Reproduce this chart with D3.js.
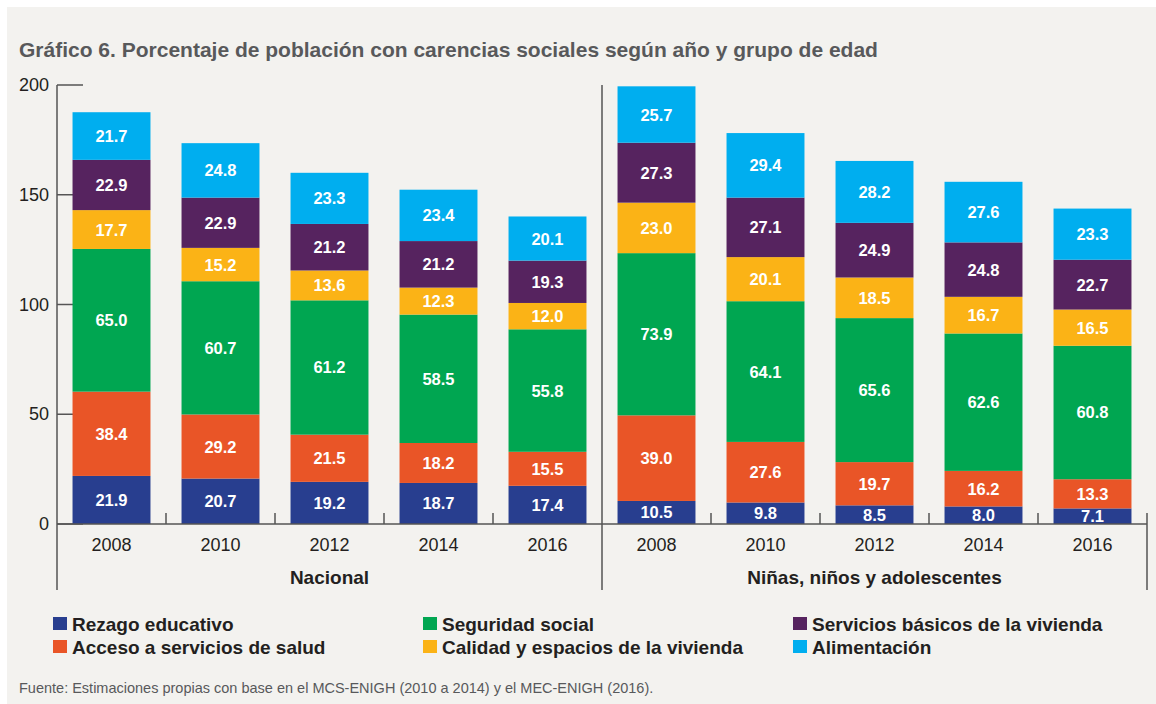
<!DOCTYPE html>
<html>
<head>
<meta charset="utf-8">
<script src="https://cdn.jsdelivr.net/npm/d3@7"></script>
<style>
  body { margin: 0; background: #fff; }
  svg text { font-family: "Liberation Sans", Arial, sans-serif; }
</style>
</head>
<body>
<div id="chart"></div>
<script>
// categories
const years = ["2008", "2010", "2012", "2014", "2016"];
const groups = ["Nacional", "Niñas, niños y adolescentes"];
const series = ["Rezago educativo", "Acceso a servicios de salud", "Seguridad social",
                "Calidad y espacios de la vivienda", "Servicios básicos de la vivienda", "Alimentación"];
const colors = ["#283e8f", "#e95527", "#00a651", "#fbb316", "#56235f", "#00aeef"];
const yTicks = [0, 50, 100, 150, 200];

// values per series, years in order, Nacional then NNA
const rezago        = [21.9, 20.7, 19.2, 18.7, 17.4,  10.5, 9.8, 8.5, 8.0, 7.1];
const saludAcceso   = [38.4, 29.2, 21.5, 18.2, 15.5,  39.0, 27.6, 19.7, 16.2, 13.3];
const seguridad     = [65.0, 60.7, 61.2, 58.5, 55.8,  73.9, 64.1, 65.6, 62.6, 60.8];
const calidad       = [17.7, 15.2, 13.6, 12.3, 12.0,  23.0, 20.1, 18.5, 16.7, 16.5];
const servicios     = [22.9, 22.9, 21.2, 21.2, 19.3,  27.3, 27.1, 24.9, 24.8, 22.7];
const alimentacion  = [21.7, 24.8, 23.3, 23.4, 20.1,  25.7, 29.4, 28.2, 27.6, 23.3];
const values = [rezago, saludAcceso, seguridad, calidad, servicios, alimentacion];

const width = 1156, height = 704;

let svg = d3.select("#chart").append("svg")
  .attr("width", width).attr("height", height);

// panel background
svg.append("rect").attr("x", 7).attr("y", 7)
  .attr("width", width - 7).attr("height", height - 7)
  .attr("fill", "#f3f2ef");

svg.append("text")
  .attr("x", 19).attr("y", 57)
  .attr("font-size", 21).attr("font-weight", "bold").attr("fill", "#58595b")
  .text("Gráfico 6. Porcentaje de población con carencias sociales según año y grupo de edad");

// one row per bar
let rows = [];
groups.forEach(function(g, gi){
  years.forEach(function(yr, yi){
    let row = { key: g + "-" + yr, year: yr, group: g };
    series.forEach(function(s, si){ row[s] = values[si][gi * years.length + yi]; });
    rows.push(row);
  });
});

let x = d3.scaleBand()
  .domain(rows.map(d => d.key))
  .range([57, 1147])
  .paddingInner(0.285)
  .paddingOuter(0.1425);

let y = d3.scaleLinear().domain([0, 200]).range([524, 85]);

const axisColor = "#555";

// y ticks (drawn under the bars)
svg.append("g").selectAll("line")
  .data(yTicks).enter().append("line")
  .attr("x1", 57).attr("x2", 83)
  .attr("y1", d => y(d)).attr("y2", d => y(d))
  .attr("stroke", axisColor).attr("stroke-width", 1.5);

svg.append("g").selectAll("text")
  .data(yTicks).enter().append("text")
  .attr("x", 49).attr("y", d => y(d) + 6)
  .attr("text-anchor", "end").attr("font-size", 18).attr("fill", "#231f20")
  .text(d => d);

let stacked = d3.stack().keys(series)(rows);

let layers = svg.append("g").selectAll("g")
  .data(stacked).enter().append("g")
  .attr("fill", (d, i) => colors[i]);

layers.selectAll("rect")
  .data(d => d).enter().append("rect")
  .attr("x", d => x(d.data.key))
  .attr("width", x.bandwidth())
  .attr("y", d => y(d[1]))
  .attr("height", d => y(d[0]) - y(d[1]));

layers.selectAll("text")
  .data(d => d).enter().append("text")
  .attr("x", d => x(d.data.key) + x.bandwidth() / 2)
  .attr("y", d => (y(d[0]) + y(d[1])) / 2 + 6)
  .attr("text-anchor", "middle")
  .attr("font-size", 16.5).attr("font-weight", "bold").attr("fill", "#fff")
  .text(d => (d[1] - d[0]).toFixed(1));

// axis lines
let step = x.step();
svg.append("line").attr("x1", 57).attr("x2", 57).attr("y1", 85).attr("y2", 590)
  .attr("stroke", axisColor).attr("stroke-width", 1.5);
svg.append("line").attr("x1", 57).attr("x2", 1147).attr("y1", 524).attr("y2", 524)
  .attr("stroke", axisColor).attr("stroke-width", 1.5);
svg.append("line").attr("x1", 602).attr("x2", 602).attr("y1", 85).attr("y2", 590)
  .attr("stroke", axisColor).attr("stroke-width", 1.5);
svg.append("line").attr("x1", 1147).attr("x2", 1147).attr("y1", 513).attr("y2", 590)
  .attr("stroke", axisColor).attr("stroke-width", 1.5);

// small separators between years
let seps = d3.range(1, rows.length).filter(i => i !== years.length);
svg.append("g").selectAll("line")
  .data(seps).enter().append("line")
  .attr("x1", i => 57 + i * step).attr("x2", i => 57 + i * step)
  .attr("y1", 513).attr("y2", 524)
  .attr("stroke", axisColor).attr("stroke-width", 1.5);

// year labels
svg.append("g").selectAll("text")
  .data(rows).enter().append("text")
  .attr("x", d => x(d.key) + x.bandwidth() / 2)
  .attr("y", 551)
  .attr("text-anchor", "middle").attr("font-size", 18).attr("fill", "#231f20")
  .text(d => d.year);

// group labels
svg.append("g").selectAll("text")
  .data(groups).enter().append("text")
  .attr("x", (d, i) => 57 + step * years.length * (i + 0.5))
  .attr("y", 584)
  .attr("text-anchor", "middle").attr("font-size", 19).attr("font-weight", "bold").attr("fill", "#231f20")
  .text(d => d);

// legend, in reading order of the reference
const legendOrder = [0, 2, 4, 1, 3, 5];
const colX = [53, 423, 793];
let legend = svg.append("g").selectAll("g")
  .data(legendOrder).enter().append("g")
  .attr("transform", (si, k) => "translate(" + colX[k % 3] + "," + (617 + Math.floor(k / 3) * 23) + ")");
legend.append("rect").attr("width", 14).attr("height", 13).attr("fill", si => colors[si]);
legend.append("text").attr("x", 19).attr("y", 14)
  .attr("font-size", 19).attr("font-weight", "bold").attr("fill", "#231f20")
  .text(si => series[si]);

svg.append("text")
  .attr("x", 19).attr("y", 693)
  .attr("font-size", 14.5).attr("fill", "#58595b")
  .text("Fuente: Estimaciones propias con base en el MCS-ENIGH (2010 a 2014) y el MEC-ENIGH (2016).");
</script>
</body>
</html>
